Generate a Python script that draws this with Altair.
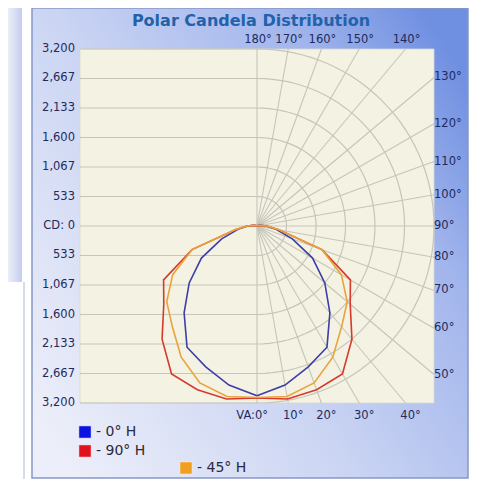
import math
import altair as alt
import pandas as pd

# ---------------- data ----------------
ANGLES = [0, 10, 20, 30, 40, 50, 60, 70, 80, 90, 100, 110, 120, 130, 140, 150, 160, 170, 180]
CD_0H = [3070, 2920, 2710, 2530, 2050, 1600, 1160, 680, 350, 170, 60, 20, 10, 5, 5, 5, 5, 5, 5]
CD_90H = [3110, 3175, 3150, 3090, 2670, 2200, 1950, 1250, 400, 180, 60, 20, 10, 5, 5, 5, 5, 5, 5]
CD_45H = [3100, 3130, 3020, 2740, 2380, 2130, 1760, 1250, 400, 180, 60, 20, 10, 5, 5, 5, 5, 5, 5]
SERIES = ["- 0° H", "- 90° H", "- 45° H"]
LINE_COLORS = ["#3c3fa8", "#d63a2c", "#e8a43a"]
LEGEND_COLORS = ["#0b12e0", "#e0121c", "#f0a020"]

CD_MAX = 3200
CD_TICKS = [-3200, -2667, -2133, -1600, -1067, -533, 0, 533, 1067, 1600, 2133, 2667, 3200]
CD_LABELS = ["3,200", "2,667", "2,133", "1,600", "1,067", "533", "CD: 0",
             "533", "1,067", "1,600", "2,133", "2,667", "3,200"]
RING_VALUES = [533, 1067, 1600, 2133, 2667, 3200]
ANGLE_LABELS = ["VA:0°", "10°", "20°", "30°", "40°", "50°", "60°", "70°", "80°", "90°",
                "100°", "110°", "120°", "130°", "140°", "150°", "160°", "170°", "180°"]
TITLE = "Polar Candela Distribution"

# ---------------- layout ----------------
W = H = 471
CX, CY = 249, 218          # polar centre in chart pixels
PXR = 177.0                # pixels for CD_MAX
K = CD_MAX / PXR
xs = alt.Scale(domain=[-CX * K, (W - CX) * K], nice=False, zero=False)
ys = alt.Scale(domain=[-(H - CY) * K, CY * K], nice=False, zero=False)
FONT = "DejaVu Sans"
TXT = "#1e2b5c"
GRID = "#c6c5ba"

one = pd.DataFrame({"a": [0]})

# neighbouring window sliver on the left
sliver = alt.Chart(one).mark_rect(
    fill=alt.Gradient(gradient="linear", x1=0, y1=0, x2=1, y2=0,
                      stops=[alt.GradientStop(color="#eceef8", offset=0),
                             alt.GradientStop(color="#c4cdee", offset=1)])
).encode(x=alt.value(0), x2=alt.value(14), y=alt.value(0), y2=alt.value(274))
sliver_line = alt.Chart(one).mark_rule(color="#c8cfe4", strokeWidth=1.5).encode(
    x=alt.value(16), y=alt.value(274), y2=alt.value(471))

# background panel with gradient
panel = alt.Chart(one).mark_rect(
    fill=alt.Gradient(
        gradient="linear", x1=0, y1=0.85, x2=1, y2=0.15,
        stops=[alt.GradientStop(color="#eceef9", offset=0),
               alt.GradientStop(color="#cbd5f3", offset=0.42),
               alt.GradientStop(color="#a2b5ec", offset=0.78),
               alt.GradientStop(color="#6f8fe1", offset=1)]),
    stroke="#8798c8", strokeWidth=1.5
).encode(x=alt.value(24), x2=alt.value(460), y=alt.value(0), y2=alt.value(470))
bottom_line = alt.Chart(one).mark_rule(color="#c5cce0", strokeWidth=2).encode(
    x=alt.value(20), x2=alt.value(471), y=alt.value(473))

frame_df = pd.DataFrame({"x0": [-CD_MAX], "x1": [CD_MAX], "y0": [-CD_MAX], "y1": [CD_MAX]})
frame = alt.Chart(frame_df).mark_rect(fill="#f4f2e3", stroke="#d8d8d0", strokeWidth=0.8).encode(
    x=alt.X("x0:Q", scale=xs, axis=None), x2="x1:Q",
    y=alt.Y("y0:Q", scale=ys, axis=None), y2="y1:Q")

# left horizontal grid lines
hl_df = pd.DataFrame({"y": CD_TICKS, "x0": [-CD_MAX] * len(CD_TICKS), "x1": [0] * len(CD_TICKS)})
hlines = alt.Chart(hl_df).mark_rule(color=GRID, strokeWidth=1.2).encode(
    x=alt.X("x0:Q", scale=xs, axis=None), x2="x1:Q",
    y=alt.Y("y:Q", scale=ys, axis=None))

# right half rings
ring_rows = []
for r in RING_VALUES:
    for t in range(0, 181, 3):
        a = math.radians(t)
        ring_rows.append({"r": r, "t": t, "x": r * math.sin(a), "y": -r * math.cos(a)})
rings = alt.Chart(pd.DataFrame(ring_rows)).mark_line(color=GRID, strokeWidth=1.2).encode(
    x=alt.X("x:Q", scale=xs, axis=None), y=alt.Y("y:Q", scale=ys, axis=None),
    detail="r:N", order="t:Q")

# rays to the frame edge
ray_rows = []
for t in ANGLES:
    a = math.radians(t)
    s, c = math.sin(a), math.cos(a)
    L = CD_MAX / max(abs(s), abs(c))
    ray_rows.append({"t": t, "x0": 0, "y0": 0, "x1": L * s, "y1": -L * c})
rays = alt.Chart(pd.DataFrame(ray_rows)).mark_rule(color=GRID, strokeWidth=1.1).encode(
    x=alt.X("x0:Q", scale=xs, axis=None), y=alt.Y("y0:Q", scale=ys, axis=None),
    x2="x1:Q", y2="y1:Q")

# candela curves (mirrored on the left half)
rows = []
for name, vals in zip(SERIES, [CD_0H, CD_90H, CD_45H]):
    idx = 0
    for t, v in zip(ANGLES, vals):
        rows.append({"s": name, "t": t, "v": v, "side": 1, "i": idx}); idx += 1
    for t, v in zip(ANGLES[::-1], vals[::-1]):
        rows.append({"s": name, "t": t, "v": v, "side": -1, "i": idx}); idx += 1
curve_df = pd.DataFrame(rows)
curves = alt.Chart(curve_df).transform_calculate(
    px="datum.side * datum.v * sin(datum.t * PI / 180)",
    py="-datum.v * cos(datum.t * PI / 180)"
).mark_line(strokeWidth=1.6, interpolate="linear").encode(
    x=alt.X("px:Q", scale=xs, axis=None), y=alt.Y("py:Q", scale=ys, axis=None),
    color=alt.Color("s:N", scale=alt.Scale(domain=SERIES, range=LINE_COLORS), legend=None),
    order="i:Q", detail="s:N")

# left candela labels
cd_lab = alt.Chart(pd.DataFrame({"y": CD_TICKS, "lab": CD_LABELS, "x": [-CD_MAX] * len(CD_TICKS)})).mark_text(
    align="right", baseline="middle", dx=-5, font=FONT, fontSize=11.5, color=TXT).encode(
    x=alt.X("x:Q", scale=xs, axis=None), y=alt.Y("y:Q", scale=ys, axis=None), text="lab:N")

# angle labels
top_rows, bot_rows, right_rows = [], [], []
for t, lab in zip(ANGLES, ANGLE_LABELS):
    a = math.radians(t)
    s, c = math.sin(a), math.cos(a)
    if abs(c) >= abs(s):
        x = CD_MAX * s / abs(c)
        if c < 0:
            top_rows.append({"x": x, "y": CD_MAX, "lab": lab})
        else:
            bot_rows.append({"x": x, "y": -CD_MAX, "lab": lab})
    else:
        right_rows.append({"x": CD_MAX, "y": -CD_MAX * c / s, "lab": lab})

top_lab = alt.Chart(pd.DataFrame(top_rows)).mark_text(
    align="center", baseline="middle", dx=1, dy=-9, font=FONT, fontSize=11.5, color=TXT).encode(
    x=alt.X("x:Q", scale=xs, axis=None), y=alt.Y("y:Q", scale=ys, axis=None), text="lab:N")
bot_df = pd.DataFrame(bot_rows)
bot_lab = alt.Chart(bot_df[bot_df["lab"] != "VA:0°"]).mark_text(
    align="center", baseline="middle", dx=5, dy=13, font=FONT, fontSize=11.5, color=TXT).encode(
    x=alt.X("x:Q", scale=xs, axis=None), y=alt.Y("y:Q", scale=ys, axis=None), text="lab:N")
va_lab = alt.Chart(bot_df[bot_df["lab"] == "VA:0°"]).mark_text(
    align="right", baseline="middle", dx=11, dy=13, font=FONT, fontSize=11.5, color=TXT).encode(
    x=alt.X("x:Q", scale=xs, axis=None), y=alt.Y("y:Q", scale=ys, axis=None), text="lab:N")
right_lab = alt.Chart(pd.DataFrame(right_rows)).mark_text(
    align="left", baseline="middle", dx=0, font=FONT, fontSize=11.5, color=TXT).encode(
    x=alt.X("x:Q", scale=xs, axis=None), y=alt.Y("y:Q", scale=ys, axis=None), text="lab:N")

title = alt.Chart(one).mark_text(
    text=TITLE, font=FONT, fontSize=16, fontWeight="bold", color="#2262ab",
    align="center", baseline="middle").encode(x=alt.value(243), y=alt.value(13))

# legend (manual, to follow the original's arrangement)
leg_df = pd.DataFrame({"s": SERIES, "c": LEGEND_COLORS,
                       "sx": [77, 77, 178], "sy": [424, 443, 460]})
leg_sq = alt.Chart(leg_df).mark_square(size=150, opacity=1).encode(
    x=alt.X("sx:Q", scale=None, axis=None), y=alt.Y("sy:Q", scale=None, axis=None),
    fill=alt.Fill("c:N", scale=None), stroke=alt.value("#ffffff"), strokeWidth=alt.value(0.5))
leg_tx = alt.Chart(leg_df).mark_text(align="left", baseline="middle", dx=11, font=FONT,
                                     fontSize=14, color="#2a2a3a").encode(
    x=alt.X("sx:Q", scale=None, axis=None), y=alt.Y("sy:Q", scale=None, axis=None), text="s:N")

chart = alt.layer(sliver, sliver_line, panel, bottom_line, frame, hlines, rings, rays, curves,
                  cd_lab, top_lab, bot_lab, va_lab, right_lab, title, leg_sq, leg_tx).properties(
    width=W, height=H, autosize=alt.AutoSizeParams(type="none"), padding=0,
    background="#ffffff"
).configure_view(stroke=None)

chart.save("out.html", embed_options={"renderer": "svg", "actions": False})
